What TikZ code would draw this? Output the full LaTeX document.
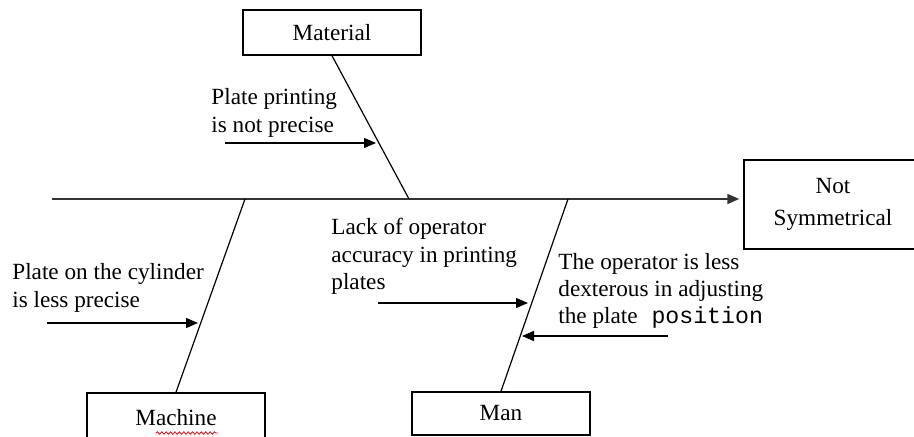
\documentclass[tikz,border=0pt]{standalone}
\usepackage{fontspec}
\setmainfont{Liberation Serif}
\newfontfamily\monofont{Liberation Mono}
\usetikzlibrary{arrows.meta,decorations.pathmorphing}
\tikzset{
  causebox/.style={draw=black,line width=0.75pt,minimum width=89pt,inner sep=0pt,font=\fontsize{11.6}{13.8}\selectfont},
  label/.style={anchor=base west,inner sep=0pt,font=\fontsize{11.6}{13.8}\selectfont},
  spine/.style={line width=0.6pt,draw=black},
  mainline/.style={line width=1pt,draw=black!80,-{Triangle[length=6pt,width=5pt]}},
  causearrow/.style={line width=0.6pt,draw=black,-{Triangle[length=6pt,width=5pt]}}
}
\begin{document}
\begin{tikzpicture}[x=0.5pt,y=-0.5pt]
\useasboundingbox (0,0) rectangle (914,437);
\clip (0,0) rectangle (914,437);
% boxes
\node[causebox,minimum height=22.5pt] (mat) at (332,32.5) {Material};
\node[causebox,minimum height=44.5pt,align=center] (eff) at (833,204.5) {Not\\[2.2pt]Symmetrical};
\node[causebox,minimum height=25pt] (mach) at (176,418) {Machine};
\node[causebox,minimum height=21.5pt] (man) at (501,413.5) {Man};
% spine coordinates
\coordinate (tail) at (52,199);
\coordinate (jmat) at (409,199);
\coordinate (jmach) at (245,199);
\coordinate (jman) at (568,199);
% main line
\draw[mainline,shorten >=2pt] (tail) -- (eff.west |- tail);
% branches
\draw[spine] (mat.south) -- (jmat);
\draw[spine] (jmach) -- (mach.north);
\draw[spine] (jman) -- (man.north);
% cause arrows
\coordinate (a1s) at (225,143); \coordinate (a1e) at (376,143);
\coordinate (a2s) at (47,323);  \coordinate (a2e) at (198,323);
\coordinate (a3s) at (378,303); \coordinate (a3e) at (528,303);
\coordinate (a4s) at (668,336); \coordinate (a4e) at (522,336);
\draw[causearrow] (a1s) -- (a1e);
\draw[causearrow] (a2s) -- (a2e);
\draw[causearrow] (a3s) -- (a3e);
\draw[causearrow] (a4s) -- (a4e);
% labels
\node[label] (t1a) at (211,105) {Plate printing};
\node[label] (t1b) at (211,133) {is not precise};
\node[label] (t2a) at (12,280) {Plate on the cylinder};
\node[label] (t2b) at (12,308) {is less precise};
\node[label] (t3a) at (331,235) {Lack of operator};
\node[label] (t3b) at (331,263) {accuracy in printing};
\node[label] (t3c) at (331,290) {plates};
\node[label] (t4a) at (558,270) {The operator is less};
\node[label] (t4b) at (558,297) {dexterous in adjusting};
\node[label] (t4c) at (558,324) {the plate{\monofont\ position}};
% spell-check squiggle
\coordinate (sq1) at (156,433); \coordinate (sq2) at (218,433);
\draw[red,line width=0.4pt,decorate,decoration={snake,amplitude=0.6pt,segment length=2.2pt}] (sq1) -- (sq2);
\end{tikzpicture}
\end{document}
